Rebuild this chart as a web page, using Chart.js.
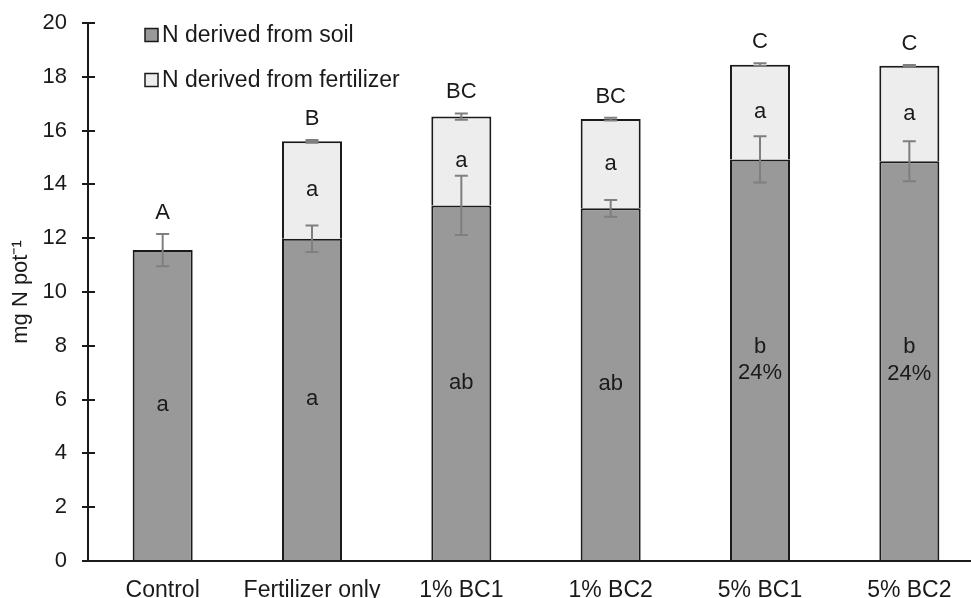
<!DOCTYPE html>
<html><head><meta charset="utf-8">
<script src="https://cdn.jsdelivr.net/npm/chart.js@4.4.1/dist/chart.umd.min.js"></script>
<style>
html,body{margin:0;padding:0;background:#fff;overflow:hidden;}
#wrap{position:relative;width:990px;height:598px;}
</style></head><body>
<div id="wrap"><canvas id="c"></canvas></div>
<script>
// ---- data ----
const categories = ['Control', 'Fertilizer only', '1% BC1', '1% BC2', '5% BC1', '5% BC2'];
const soilN = [11.56, 11.98, 13.22, 13.11, 14.93, 14.86];
const fertN = [null, 3.62, 3.30, 3.32, 3.52, 3.55];
const soilErr = [0.60, 0.49, 1.10, 0.31, 0.86, 0.74];
const totalErr = [null, 0.05, 0.12, 0.05, 0.05, 0.03];
const groupLetters = ['A', 'B', 'BC', 'BC', 'C', 'C'];
const soilLetters = [['a'], ['a'], ['ab'], ['ab'], ['b', '24%'], ['b', '24%']];
const fertLetters = ['', 'a', 'a', 'a', 'a', 'a'];
const seriesNames = ['N derived from soil', 'N derived from fertilizer'];
const yTitle = 'mg N pot\u207B\u00B9';

const FONT = '"Liberation Sans", Arial, sans-serif';
const INK = '#1a1a1a';

const extras = {
  id: 'extras',
  afterDatasetsDraw(chart) {
    const ctx = chart.ctx;
    const y = chart.scales.y;
    const area = chart.chartArea;
    const m0 = chart.getDatasetMeta(0);
    const m1 = chart.getDatasetMeta(1);
    ctx.save();
    // tick marks crossing the y axis
    ctx.strokeStyle = INK; ctx.lineWidth = 2;
    y.ticks.forEach(t => {
      const py = Math.round(y.getPixelForValue(t.value));
      ctx.beginPath(); ctx.moveTo(area.left - 6, py); ctx.lineTo(area.left + 7, py); ctx.stroke();
    });
    // error bars
    const drawErr = (x, v, e) => {
      const top = y.getPixelForValue(v + e), bot = y.getPixelForValue(v - e);
      ctx.strokeStyle = '#7f7f7f'; ctx.lineWidth = 2;
      ctx.beginPath();
      ctx.moveTo(x, top); ctx.lineTo(x, bot);
      ctx.moveTo(x - 6.5, top); ctx.lineTo(x + 6.5, top);
      ctx.moveTo(x - 6.5, bot); ctx.lineTo(x + 6.5, bot);
      ctx.stroke();
    };
    ctx.fillStyle = INK;
    ctx.textAlign = 'center'; ctx.textBaseline = 'middle';
    ctx.font = '22px ' + FONT;
    categories.forEach((c, i) => {
      const b0 = m0.data[i];
      const x = b0.x;
      const lines = soilLetters[i];
      const mid = (b0.y + b0.base) / 2;
      const lh = 26.5;
      lines.forEach((s, k) => {
        ctx.fillStyle = INK;
        ctx.fillText(s, x, mid + (k - (lines.length - 1) / 2) * lh);
      });
      let total = soilN[i], topErr = soilErr[i];
      if (fertN[i] != null) {
        const b1 = m1.data[i];
        ctx.fillText(fertLetters[i], x, (b1.y + b1.base) / 2);
        total = soilN[i] + fertN[i];
        topErr = totalErr[i];
      }
      drawErr(x, soilN[i], soilErr[i]);
      if (fertN[i] != null) drawErr(x, total, totalErr[i]);
      ctx.fillStyle = INK;
      ctx.fillText(groupLetters[i], x, y.getPixelForValue(total + topErr) - 21);
    });
    // legend
    ctx.textAlign = 'left';
    ctx.font = '23px ' + FONT;
    chart.data.datasets.forEach((ds, k) => {
      const cy = 35 + k * 45;
      ctx.fillStyle = ds.backgroundColor;
      ctx.fillRect(145, cy - 6.5, 13, 13);
      ctx.strokeStyle = INK; ctx.lineWidth = 1.5;
      ctx.strokeRect(145, cy - 6.5, 13, 13);
      ctx.fillStyle = INK;
      ctx.fillText(ds.label, 162, cy + 1);
    });
    ctx.restore();
  }
};

new Chart(document.getElementById('c'), {
  type: 'bar',
  data: {
    labels: categories,
    datasets: [
      { label: seriesNames[0], data: soilN, backgroundColor: '#999999', borderColor: INK, borderWidth: 2 },
      { label: seriesNames[1], data: fertN, backgroundColor: '#ededed', borderColor: INK, borderWidth: 2 }
    ]
  },
  options: {
    responsive: true, maintainAspectRatio: false, animation: false,
    layout: { padding: { top: 23, right: 6, bottom: 0, left: 0 } },
    datasets: { bar: { categoryPercentage: 1, barPercentage: 0.402 } },
    plugins: { legend: { display: false }, tooltip: { enabled: false } },
    scales: {
      x: {
        stacked: true,
        grid: { display: false },
        border: { display: true, color: INK, width: 2 },
        ticks: { padding: 8, color: INK, font: { size: 23, family: FONT } },
        afterFit(s) { s.height = 37; }
      },
      y: {
        stacked: true, min: 0, max: 20,
        ticks: { stepSize: 2, padding: 3, color: INK, font: { size: 22, family: FONT } },
        grid: { drawOnChartArea: false, drawTicks: true, tickLength: 18, tickColor: 'rgba(0,0,0,0)', color: 'rgba(0,0,0,0)', lineWidth: 2 },
        border: { display: true, color: INK, width: 2 },
        title: { display: true, text: yTitle, color: INK, font: { size: 22, family: FONT }, padding: { top: 8, bottom: 0 } },
        afterFit(s) { s.width = 88; }
      }
    }
  },
  plugins: [extras]
});
</script>
</body></html>
